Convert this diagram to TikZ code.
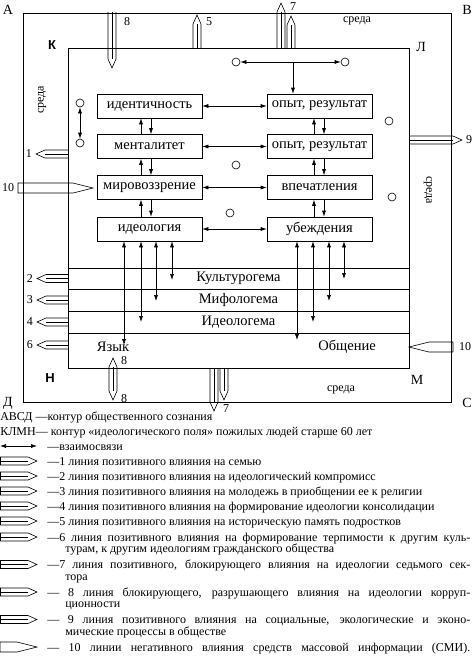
\documentclass[tikz,border=0pt]{standalone}
\usepackage{fontspec}
\setmainfont{Liberation Serif}
\setsansfont{Liberation Sans}
\usetikzlibrary{arrows.meta}
\tikzset{
  box/.style={draw, minimum width=105pt, minimum height=24pt, inner sep=0pt},
  dot/.style={circle, draw, minimum size=8pt, inner sep=0pt},
  tag/.style={inner sep=0pt, font=\fontsize{12}{14}\selectfont},
  corner/.style={inner sep=0pt, font=\fontsize{14}{16}\selectfont},
  key/.style={anchor=base west, inner sep=0pt, font=\fontsize{12}{14}\selectfont},
  pics/flow/.style={code={
    \draw (0,-4) -- (#1-9,-4) -- (#1,0) -- (#1-9,4) -- (0,4);
    \draw (0,0) -- (#1-9,0);
  }},
  pics/flowtwo/.style={code={
    \draw (9,-4) -- (#1-9,-4) -- (#1,0) -- (#1-9,4) -- (9,4) -- (0,0) -- cycle;
    \draw (9,0) -- (#1-9,0);
  }},
  pics/media/.style={code={
    \draw (0,-5) -- (#1-20,-5) -- (#1,0) -- (#1-20,5) -- (0,5) -- cycle;
  }},
}
\begin{document}
\begin{tikzpicture}[x=1pt, y=-1pt, line width=0.6pt, >={Latex[length=6pt,width=4pt]},
  font=\fontsize{14.5}{16}\selectfont]
  \useasboundingbox (0,0) rectangle (475,657);
  % contours
  \draw (23,13) rectangle (451,402);
  \draw (68,48) rectangle (409,368);
  \foreach \y in {268,289,311,333} \draw (68,\y) -- (409,\y);
  \node[corner] at (8,10) {А};
  \node[corner] at (467,10) {В};
  \node[corner] at (8,403) {Д};
  \node[corner] at (467,403) {С};
  \node[corner, font=\sffamily\bfseries\fontsize{13}{15}\selectfont] at (52,45) {К};
  \node[corner] at (421,47) {Л};
  \node[corner, font=\sffamily\bfseries\fontsize{13}{15}\selectfont] at (50,378) {Н};
  \node[corner] at (417,380) {М};
  \node[tag] at (357,21) {среда};
  \node[tag] at (341,390) {среда};
  \node[tag, rotate=90] at (42,100) {среда};
  \node[tag, rotate=-90] at (428,190) {среда};
  % boxes
  \node[box] (id) at (149.5,106) {идентичность};
  \node[box] (ment) at (149.5,146.5) {менталитет};
  \node[box] (mir) at (149.5,187.5) {мировоззрение};
  \node[box] (ideo) at (149.5,229) {идеология};
  \node[box] (op1) at (319.5,106) {опыт, результат};
  \node[box] (op2) at (319.5,146.5) {опыт, результат};
  \node[box] (vpe) at (319.5,187.5) {впечатления};
  \node[box] (ube) at (319.5,229) {убеждения};
  \foreach \a/\b in {id/op1, ment/op2, mir/vpe, ideo/ube}
    \draw[<->] (\a) -- (\b);
  \foreach \a/\b in {id/ment, ment/mir, mir/ideo} {
    \draw[->] ([xshift=-8.5pt]\b.north) -- ([xshift=-8.5pt]\a.south);
    \draw[->] ([xshift=1.5pt]\a.south) -- ([xshift=1.5pt]\b.north);
  }
  \foreach \a/\b in {op1/op2, op2/vpe, vpe/ube} {
    \draw[->] ([xshift=-5.5pt]\b.north) -- ([xshift=-5.5pt]\a.south);
    \draw[->] ([xshift=4.5pt]\a.south) -- ([xshift=4.5pt]\b.north);
  }
  % circles
  \node[dot] (c1) at (80,103) {};
  \node[dot] (c2) at (80,143) {};
  \node[dot] (c3) at (236,62) {};
  \node[dot] (c4) at (345,62) {};
  \node[dot] (c5) at (389,121) {};
  \node[dot] (c6) at (236,165) {};
  \node[dot] (c7) at (230,213) {};
  \node[dot] (c8) at (392,197) {};
  \draw[<->] (c1) -- (c2);
  \draw[<->] (c3) -- (c4);
  \coordinate (hub) at (293,62);
  \draw[->] (hub) -- (hub |- op1.north);
  % layers
  \node (kult) at (238.5,278.5) {Культурогема};
  \node (mif) at (238.5,300) {Мифологема};
  \node (ideol) at (238.5,322) {Идеологема};
  \node (yaz) at (113,347) {Язык};
  \node (obs) at (347,347) {Общение};
  \foreach \x/\y in {124/345, 141/322, 156/301, 172/280}
    \draw[<->] (\x,0 |- ideo.south) -- (\x,\y);
  \foreach \x/\y in {297/340, 313/322, 329/301, 344/279}
    \draw[<->] (\x,0 |- ube.south) -- (\x,\y);
  % lines of influence
  \pic[rotate=-90] at (112,12) {flow=56};
  \pic[rotate=90] at (197,48) {flow=33};
  \pic[rotate=90] at (281,48) {flow=45};
  \pic[rotate=90] at (291,48) {flow=32};
  \pic[rotate=180] at (68,154) {flow=32};
  \foreach \y in {278.5,300,322,345}
    \pic[rotate=180] at (68,\y) {flow=31};
  \pic at (409,140) {flow=53};
  \pic[rotate=-90] at (214,368) {flow=43};
  \pic[rotate=-90] at (224,368) {flow=32};
  \pic[rotate=-90] at (113,358) {flowtwo=42};
  \pic at (18,188) {media=75};
  \pic[rotate=180] at (453,347) {media=44};
  \node[tag] (n8a) at (127,22) {8};
  \node[tag] (n5) at (209,22) {5};
  \node[tag] (n7a) at (293,7) {7};
  \node[tag] (n1) at (29,154) {1};
  \node[tag] (n10a) at (8,188) {10};
  \node[tag] (n9) at (469,140) {9};
  \node[tag] (n2) at (30,278.5) {2};
  \node[tag] (n3) at (30,300) {3};
  \node[tag] (n4) at (30,322) {4};
  \node[tag] (n6) at (30,345) {6};
  \node[tag] (n10b) at (465,347) {10};
  \node[tag] (n8b) at (124,361) {8};
  \node[tag] (n8c) at (124,399) {8};
  \node[tag] (n7b) at (226,409) {7};
  % legend
  \node[key] (k1) at (0,420) {АВСД —контур общественного сознания};
  \node[key] (k2) at (0,435) {КЛМН— контур «идеологического поля» пожилых людей старше 60 лет};
  \draw[<->] (0,446) -- (37,446);
  \node[key] (k3) at (47,450) {—взаимосвязи};
  \foreach \y in {461,476,491,506,521,537,564.5,592,619.5} {
    \draw (0,\y-4) -- (0,\y+4);
    \pic at (0,\y) {flow=37};
  }
  \pic at (0,647) {media=37};
  \node[key] (l1) at (47,465) {—1 линия позитивного влияния на семью};
  \node[key] (l2) at (47,480) {—2 линия позитивного влияния на идеологический компромисс};
  \node[key] (l3) at (47,495) {—3 линия позитивного влияния на молодежь в приобщении ее к религии};
  \node[key] (l4) at (47,510) {—4 линия позитивного влияния на формирование идеологии консолидации};
  \node[key] (l5) at (47,525) {—5 линия позитивного влияния на историческую память подростков};
  \node[key] (l6) at (47,541) {\makebox[423pt][s]{—6 линия позитивного влияния на формирование терпимости к другим куль-}};
  \node[key] (l6b) at (65,552.5) {турам, к другим идеологиям гражданского общества};
  \node[key] (l7) at (47,568.5) {\makebox[423pt][s]{—7 линия позитивного, блокирующего влияния на идеологии седьмого сек-}};
  \node[key] (l7b) at (65,580) {тора};
  \node[key] (l8) at (47,596) {\makebox[423pt][s]{— 8 линия блокирующего, разрушающего влияния на идеологии корруп-}};
  \node[key] (l8b) at (65,607.5) {ционности};
  \node[key] (l9) at (47,623.5) {\makebox[423pt][s]{— 9 линия позитивного влияния на социальные, экологические и эконо-}};
  \node[key] (l9b) at (65,635) {мические процессы в обществе};
  \node[key] (l10) at (47,651) {\makebox[423pt][s]{— 10 линии негативного влияния средств массовой информации (СМИ).}};
\end{tikzpicture}
\end{document}
